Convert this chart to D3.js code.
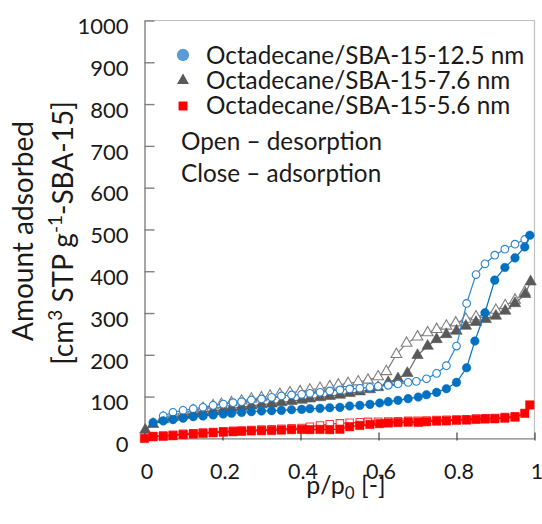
<!DOCTYPE html>
<html>
<head>
<meta charset="utf-8">
<script src="https://cdn.jsdelivr.net/npm/d3@7/dist/d3.min.js"></script>
<style>
  html, body { margin: 0; padding: 0; background: #fff; }
  svg { display: block; font-family: Lato, "Open Sans", sans-serif; }
</style>
</head>
<body>
<svg id="chart" width="542" height="524"></svg>
<script>
// Relative pressure p/p0 and amount adsorbed [cm3 STP g-1] for each sample
const p125Ads = [0.022,0.048,0.073,0.099,0.125,0.150,0.176,0.202,0.223,0.249,0.274,0.300,0.326,0.351,0.377,0.403,0.424,0.450,0.475,0.501,0.526,0.552,0.578,0.603,0.625,0.650,0.676,0.702,0.723,0.749,0.774,0.800,0.826,0.847,0.873,0.898,0.924,0.950,0.975,0.988];
const v125Ads = [38,42,45,48.5,51.9,53.5,56,58.3,60,62,63.9,65.5,66.3,67.1,68.7,69.5,71.1,71.9,73.5,74.3,77.5,79.1,81.5,84.7,87.9,91.1,95.1,98.9,104.5,110.1,118.9,134.1,169,232.9,300.6,378.7,409,432,458.3,486];
const p125Des = [0.048,0.073,0.099,0.125,0.150,0.176,0.202,0.227,0.249,0.274,0.300,0.326,0.351,0.377,0.403,0.424,0.450,0.475,0.501,0.526,0.552,0.578,0.599,0.625,0.650,0.676,0.697,0.723,0.749,0.774,0.800,0.826,0.850,0.873,0.898,0.924,0.950,0.975];
const v125Des = [54,62.5,67,71,74.5,79,82,85.5,87.9,91.9,94.3,98.3,101.5,103.9,105.5,107.9,110.3,113.5,115.9,118.3,119.9,122.3,124.7,127.1,130.3,134,136.5,142.7,155.6,174,221,323,392,417.7,438.4,452.8,464.7,476];

const p76Ads = [0.002,0.022,0.048,0.073,0.099,0.125,0.150,0.176,0.202,0.223,0.249,0.274,0.300,0.326,0.351,0.377,0.403,0.424,0.450,0.475,0.501,0.526,0.552,0.578,0.599,0.625,0.650,0.674,0.700,0.726,0.749,0.774,0.800,0.824,0.850,0.875,0.901,0.925,0.950,0.976,0.990];
const v76Ads = [20,34,45,50,55,59,63,66,69,72,75,78,81,83,86,89,92,95,98,101,104,108,112,117,122,134,143,156,199,221,237,249,257,269,278,285,293,305,323,345,375];
const p76Des = [0.048,0.073,0.099,0.125,0.150,0.176,0.197,0.223,0.249,0.274,0.300,0.322,0.347,0.373,0.399,0.424,0.450,0.475,0.497,0.522,0.548,0.573,0.599,0.620,0.646,0.672,0.700,0.726,0.749,0.774,0.798,0.824,0.850,0.875,0.901,0.925,0.950,0.975];
const v76Des = [49.6,56,61.6,66.4,72,78.4,81.6,85.6,89.6,94.3,97.5,101.5,105.5,109.5,112,116,120,124,128,131.6,135.6,139.6,147.6,160,201,228,243,253,261,269,276.6,285.4,291,296.7,307,318,331,350];

const p56Ads = [0.000,0.022,0.048,0.073,0.099,0.125,0.150,0.176,0.202,0.227,0.249,0.274,0.300,0.326,0.351,0.377,0.403,0.424,0.450,0.475,0.501,0.526,0.552,0.578,0.603,0.625,0.650,0.676,0.702,0.723,0.749,0.774,0.800,0.826,0.850,0.873,0.898,0.924,0.950,0.975,0.988];
const v56Ads = [0,4,5,6.5,9,10.5,12,13.5,15,16,17,18,18.5,19,20,21,21.5,21,21.5,21,22,28,31,33.5,35.5,37,38,39,38.5,40,41.5,42,43.5,44,45.5,46.5,47,48.5,51,60,80];
const p56Des = [0.022,0.048,0.073,0.099,0.125,0.150,0.176,0.202,0.227,0.249,0.274,0.300,0.326,0.351,0.377,0.403,0.424,0.450,0.475,0.501,0.526,0.552,0.573,0.599,0.625,0.650,0.676,0.700,0.723,0.749,0.774,0.800,0.824,0.850,0.875,0.899,0.924,0.950];
const v56Des = [5.5,7,8.5,11,12.5,14,15.5,17,18,19,20,21,22,23,24,25,28,31,34,36,37.5,38.5,39.5,40,40.5,41,42,42,43,44,44.5,45,46,47.5,48,49,51,53];

const xTicks = [0, 0.2, 0.4, 0.6, 0.8, 1];
const xTickLabels = ["0", "0.2", "0.4", "0.6", "0.8", "1"];
const yTicks = [0, 100, 200, 300, 400, 500, 600, 700, 800, 900, 1000];

const seriesNames = ["Octadecane/SBA-15-12.5 nm", "Octadecane/SBA-15-7.6 nm", "Octadecane/SBA-15-5.6 nm"];
const noteLines = ["Open \u2013 desorption", "Close \u2013 adsorption"];

const svg = d3.select("#chart");
const m = { left: 144.5, top: 20.5, right: 7.5, bottom: 85.6 };
const W = 542 - m.left - m.right, H = 524 - m.top - m.bottom;

const x = d3.scaleLinear().domain([0, 1]).range([0, W]);
const y = d3.scaleLinear().domain([0, 1000]).range([H, 0]);

const g = svg.append("g").attr("transform", `translate(${m.left},${m.top})`);

// frame: top and right edges
g.append("path")
  .attr("d", `M0,0H${W}V${H}`)
  .attr("fill", "none").attr("stroke", "#bfbfbf").attr("stroke-width", 1.2);

// y axis, ticks pointing inward
const yAxis = g.append("g")
  .call(d3.axisLeft(y).tickValues(yTicks).tickFormat(d3.format("d"))
        .tickSizeInner(-10).tickSizeOuter(0).tickPadding(16));
yAxis.select(".domain").attr("stroke", "#808080").attr("stroke-width", 1.4);
yAxis.selectAll(".tick line").attr("stroke", "#808080").attr("stroke-width", 1.4);
yAxis.selectAll(".tick text")
  .attr("font-family", "Lato, sans-serif").attr("font-size", 22).attr("fill", "#1a1a1a")
  .attr("dy", "0.6em");

// x axis
const xAxis = g.append("g").attr("transform", `translate(0,${H})`)
  .call(d3.axisBottom(x).tickValues(xTicks).tickFormat((d, i) => xTickLabels[i])
        .tickSizeInner(-6).tickSizeOuter(0).tickPadding(25));
xAxis.select(".domain").attr("stroke", "#808080").attr("stroke-width", 1.4);
xAxis.selectAll(".tick line").attr("stroke", "#404040").attr("stroke-width", 1.2).attr("y1", 2);
xAxis.selectAll(".tick text")
  .attr("font-family", "Lato, sans-serif").attr("font-size", 21.5).attr("fill", "#1a1a1a")
  .attr("dx", 2);

// isotherm series: desorption (open) under adsorption (filled)
const lineGen = d3.line().x(d => x(d[0])).y(d => y(d[1]));
const zip = (xs, ys) => xs.map((v, i) => [v, ys[i]]);

function drawSeries(pts, opt) {
  g.append("path").datum(pts)
    .attr("d", lineGen)
    .attr("fill", "none").attr("stroke", opt.line).attr("stroke-width", 1.2);
  g.append("g").selectAll("path").data(pts).join("path")
    .attr("transform", d => `translate(${x(d[0])},${y(d[1])})`)
    .attr("d", d3.symbol().type(opt.symbol).size(opt.size))
    .attr("fill", opt.fill).attr("stroke", opt.stroke).attr("stroke-width", opt.sw);
}

drawSeries(zip(p76Des, v76Des), { symbol: d3.symbolTriangle, size: 50, line: "#7f7f7f", fill: "#fff", stroke: "#7f7f7f", sw: 1.1 });
drawSeries(zip(p76Ads, v76Ads), { symbol: d3.symbolTriangle, size: 56, line: "#6f6f6f", fill: "#595959", stroke: "#595959", sw: 0.6 });
drawSeries(zip(p125Des, v125Des), { symbol: d3.symbolCircle, size: 46, line: "#2a84d2", fill: "#fff", stroke: "#2a84d2", sw: 1.1 });
drawSeries(zip(p125Ads, v125Ads), { symbol: d3.symbolCircle, size: 58, line: "#0070c0", fill: "#0070c0", stroke: "#0070c0", sw: 0.5 });
drawSeries(zip(p56Des, v56Des), { symbol: d3.symbolSquare, size: 56, line: "#ff2020", fill: "#fff", stroke: "#ff3b3b", sw: 1.1 });
drawSeries(zip(p56Ads, v56Ads), { symbol: d3.symbolSquare, size: 72, line: "#ff0000", fill: "#ff0000", stroke: "#ff0000", sw: 0.5 });

// legend
const legendSymbols = [
  { type: d3.symbolCircle, size: 120, fill: "#5b9bd5" },
  { type: d3.symbolTriangle, size: 62, fill: "#595959" },
  { type: d3.symbolSquare, size: 80, fill: "#ff0000" }
];
const leg = svg.append("g");
seriesNames.forEach((name, i) => {
  const cy = 55 + i * 25.5;
  leg.append("path")
    .attr("transform", `translate(183,${cy})`)
    .attr("d", d3.symbol().type(legendSymbols[i].type).size(legendSymbols[i].size))
    .attr("fill", legendSymbols[i].fill);
  leg.append("text")
    .attr("x", 206).attr("y", 63.5 + i * 25)
    .attr("font-size", 24.3).attr("fill", "#1a1a1a")
    .text(name);
});
noteLines.forEach((t, i) => {
  leg.append("text")
    .attr("x", 181).attr("y", 149.5 + i * 32.5)
    .attr("font-size", 24.3).attr("fill", "#1a1a1a")
    .text(t);
});

// axis titles
const xt = svg.append("text")
  .attr("x", 346).attr("y", 494).attr("text-anchor", "middle")
  .attr("font-size", 25).attr("fill", "#1a1a1a");
xt.append("tspan").text("p/p");
xt.append("tspan").attr("font-size", 17).attr("dy", 5).text("0");
xt.append("tspan").attr("dy", -5).text(" [-]");

svg.append("text")
  .attr("transform", "translate(33,231) rotate(-90)")
  .attr("text-anchor", "middle").attr("font-size", 28).attr("fill", "#1a1a1a")
  .text("Amount adsorbed");

const yt2 = svg.append("text")
  .attr("transform", "translate(73,233) rotate(-90)")
  .attr("text-anchor", "middle").attr("font-size", 28).attr("fill", "#1a1a1a");
yt2.append("tspan").text("[cm");
yt2.append("tspan").attr("font-size", 19).attr("dy", -11).text("3");
yt2.append("tspan").attr("dy", 11).text(" STP g");
yt2.append("tspan").attr("font-size", 19).attr("dy", -11).text("-1");
yt2.append("tspan").attr("dy", 11).text("-SBA-15]");
</script>
</body>
</html>
